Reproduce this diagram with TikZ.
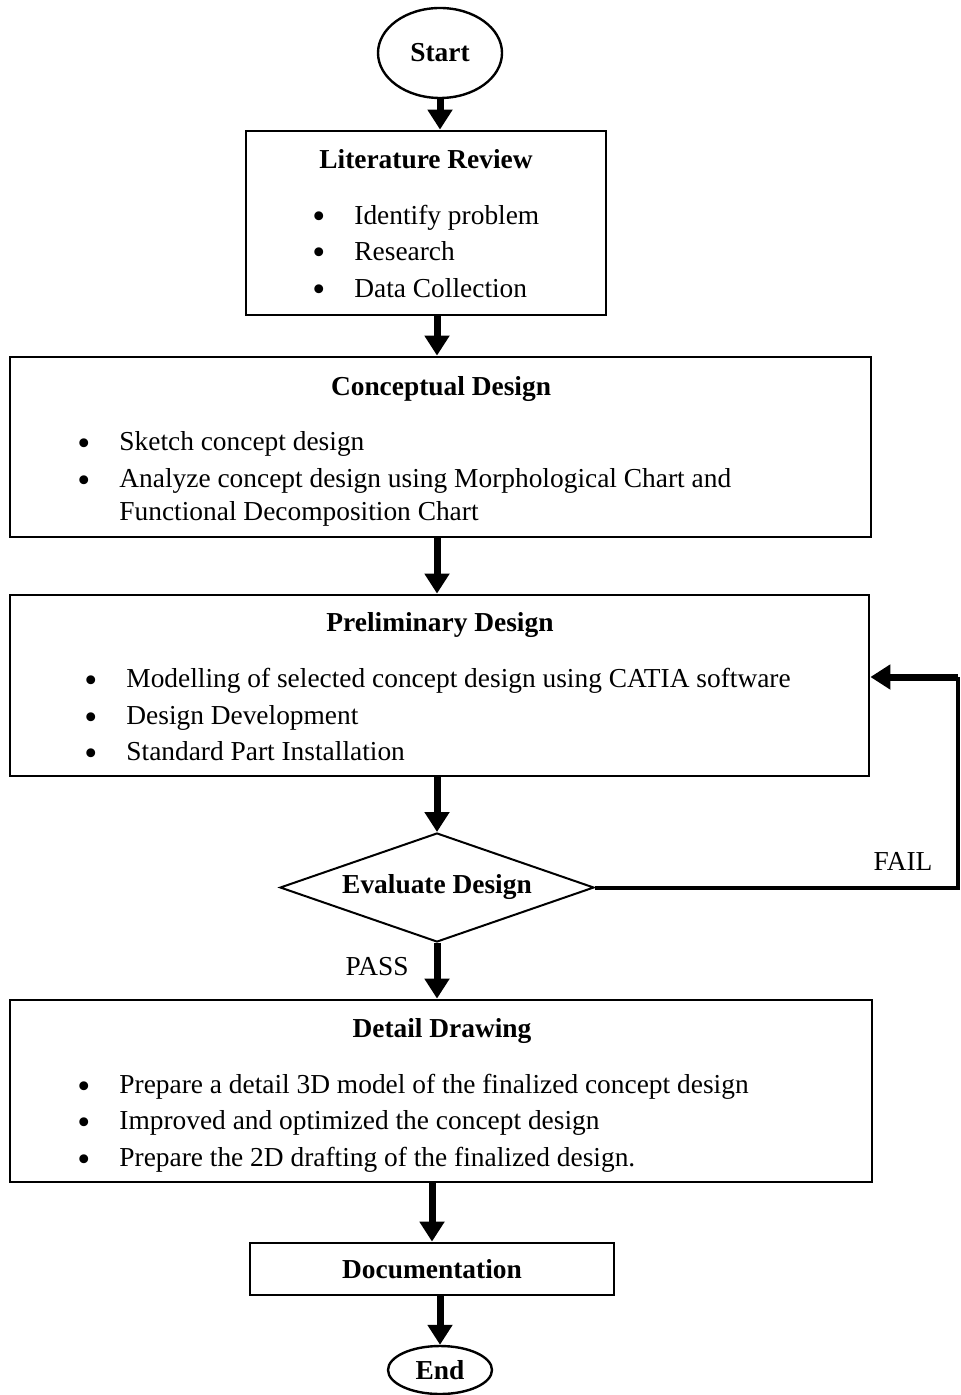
\documentclass[tikz,border=0pt]{standalone}
\usepackage{fontspec}
\setmainfont{Liberation Serif}
\usepackage{tikz}
\usetikzlibrary{shapes,arrows.meta,calc}

\begin{document}
\begin{tikzpicture}[x=0.5pt,y=-0.5pt,font=\fontsize{13.7}{16}\selectfont]
    \newcommand{\itm}[1]{\makebox[21pt][l]{\raisebox{-2.2pt}{\scalebox{1.35}{\textbullet}}}#1}

    \tikzstyle{edge}  = [line width=2pt,draw=black]
    \tikzstyle{dedge} = [line width=3.5pt,-{Triangle[width=12pt,length=10pt]},draw=black]
    \tikzstyle{sbox}=[
      rectangle,
      draw=black,
      line width=1.4pt,
      anchor=center,
      inner sep=0pt,
    ]
    \tikzstyle{term}=[
      ellipse,
      draw=black,
      line width=1.2pt,
      inner sep=0pt,
      font=\fontsize{13.7}{16}\selectfont\bfseries,
    ]
    \tikzstyle{decide}=[
      diamond,
      draw=black,
      line width=1pt,
      aspect=2.88,
      inner sep=0pt,
      minimum width=157pt,
      minimum height=54.5pt,
      font=\fontsize{13.7}{16}\selectfont\bfseries,
    ]
    \tikzstyle{head}=[inner sep=0pt,text height=9.3pt,text depth=2.7pt,font=\fontsize{13.7}{16}\selectfont\bfseries]
    \tikzstyle{line}=[anchor=west,inner sep=0pt,text height=9.3pt,text depth=2.7pt]

    \useasboundingbox (0,0) rectangle (960,1395);

    % shapes
    {
      \node[term,minimum width=62pt,minimum height=45pt] (start) at (440,53) {Start};
      \node[sbox,minimum width=180pt,minimum height=92pt] (lit) at (426,223) {};
      \node[sbox,minimum width=430.5pt,minimum height=90pt] (concept) at (440.5,447) {};
      \node[sbox,minimum width=429.5pt,minimum height=90.5pt] (prelim) at (439.5,685.5) {};
      \node[decide] (eval) at (437,887.5) {Evaluate Design};
      \node[sbox,minimum width=431pt,minimum height=91pt] (detail) at (441,1091) {};
      \node[sbox,minimum width=182pt,minimum height=26pt,font=\fontsize{13.7}{16}\selectfont\bfseries] (doc) at (432,1269) {Documentation};
      \node[term,minimum width=52pt,minimum height=24pt] (end) at (440,1370) {End};
    }

    % texts in the boxes
    {
      \node[head] (lithead) at (426,162) {Literature Review};
      \node[line] (lit1) at (312,218) {\itm{Identify problem}};
      \node[line] (lit2) at (312,254) {\itm{Research}};
      \node[line] (lit3) at (312,291) {\itm{Data Collection}};

      \node[head] (conhead) at (441,389) {Conceptual Design};
      \node[line] (con1) at (77,444) {\itm{Sketch concept design}};
      \node[line] (con2) at (77,481) {\itm{Analyze concept design using Morphological Chart and}};
      \node[line] (con3) at (119,514) {Functional Decomposition Chart};

      \node[head] (prehead) at (440,625) {Preliminary Design};
      \node[line] (pre1) at (84,681) {\itm{Modelling of selected concept design using CATIA software}};
      \node[line] (pre2) at (84,718) {\itm{Design Development}};
      \node[line] (pre3) at (84,754) {\itm{Standard Part Installation}};

      \node[head] (dethead) at (442,1031) {Detail Drawing};
      \node[line] (det1) at (77,1087) {\itm{Prepare a detail 3D model of the finalized concept design}};
      \node[line] (det2) at (77,1123) {\itm{Improved and optimized the concept design}};
      \node[line] (det3) at (77,1160) {\itm{Prepare the 2D drafting of the finalized design.}};

      \node[inner sep=0pt] (fail) at (903,861) {FAIL};
      \node[inner sep=0pt] (pass) at (377,967) {PASS};
    }

    \coordinate (loop) at (958,677);

    % arrows
    {
      \draw[dedge] (start) -- (start |- lit.north);
      \draw[dedge] (lit.south -| eval) -- (eval |- concept.north);
      \draw[dedge] (concept.south -| eval) -- (eval |- prelim.north);
      \draw[dedge] (prelim.south -| eval) -- (eval.north);
      \draw[dedge] (eval.south) -- (eval |- detail.north);
      \draw[dedge] (detail.south -| doc) -- (doc.north);
      \draw[dedge] (doc.south -| end) -- (end.north);

      \draw[edge] (eval.east) -| (loop);
      \draw[dedge] (loop) -- (loop -| prelim.east);
    }
\end{tikzpicture}
\end{document}
